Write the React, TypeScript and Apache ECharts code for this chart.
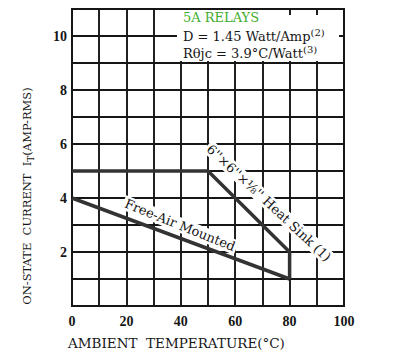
import React, { useEffect, useRef } from "react";
import * as echarts from "echarts";

const xTicks = [0, 20, 40, 60, 80, 100];
const yTicks = [2, 4, 6, 8, 10];
const heatSink: [number, number][] = [[0, 5], [50, 5], [80, 2], [80, 1]];
const freeAir: [number, number][] = [[0, 4], [80, 1]];

const SERIF = "'DejaVu Serif', 'Liberation Serif', serif";
const INK = "#161616";

export default function App() {
  const ref = useRef<HTMLDivElement>(null);
  useEffect(() => {
    if (!ref.current) return;
    const chart = echarts.init(ref.current, null, { renderer: "svg" });
    const lineStyleGrid = { color: INK, width: 1.9 };
    chart.setOption({
      animation: false,
      backgroundColor: "#fff",
      grid: { left: 72, top: 9, right: 54, bottom: 57, show: true, borderColor: INK, borderWidth: 2, backgroundColor: "transparent" },
      xAxis: {
        type: "value", min: 0, max: 100, interval: 10,
        axisLine: { show: true, lineStyle: { color: INK, width: 2 } },
        axisTick: { show: false },
        splitLine: { show: true, lineStyle: lineStyleGrid },
        axisLabel: {
          margin: 8, color: INK, fontFamily: "'Liberation Serif', serif", fontWeight: "bold", fontSize: 14,
          formatter: (v: number) => (xTicks.includes(v) ? String(v) : ""),
        },
      },
      yAxis: {
        type: "value", min: 0, max: 11, interval: 1,
        axisLine: { show: true, lineStyle: { color: INK, width: 2 } },
        axisTick: { show: false },
        splitLine: { show: true, lineStyle: lineStyleGrid },
        axisLabel: {
          margin: 5, color: INK, fontFamily: "'Liberation Serif', serif", fontWeight: "bold", fontSize: 14,
          formatter: (v: number) => (yTicks.includes(v) ? String(v) : ""),
        },
      },
      series: [
        { type: "line", data: heatSink, symbol: "none", lineStyle: { color: "#333", width: 3.5 }, z: 5 },
        { type: "line", data: freeAir, symbol: "none", lineStyle: { color: "#333", width: 3.5 }, z: 5 },
      ],
      graphic: [
        { type: "rect", z: 50, shape: { x: 177, y: 10, width: 108, height: 51 }, style: { fill: "#fff" } },
        { type: "rect", z: 50, shape: { x: 284, y: 15, width: 55, height: 46 }, style: { fill: "#fff" } },
        {
          type: "text", z: 60, x: 183, y: 17,
          style: { text: "5A RELAYS", fill: "#3fae2f", fontFamily: SERIF, fontSize: 13, verticalAlign: "middle", align: "left" },
        },
        {
          type: "text", z: 60, x: 183, y: 36,
          style: {
            text: "D = 1.45 Watt/Amp{sup|(2)}", fill: INK, fontFamily: SERIF, fontSize: 13, verticalAlign: "middle", align: "left",
            rich: { sup: { fontSize: 10, fontFamily: SERIF, fill: INK, padding: [0, 0, 8, 0] } },
          },
        },
        {
          type: "text", z: 60, x: 183, y: 53,
          style: {
            text: "R\u03B8jc = 3.9\u00B0C/Watt{sup|(3)}", fill: INK, fontFamily: SERIF, fontSize: 13, verticalAlign: "middle", align: "left",
            rich: { sup: { fontSize: 10, fontFamily: SERIF, fill: INK, padding: [0, 0, 8, 0] } },
          },
        },
        {
          type: "text", z: 60, x: 180, y: 225, rotation: (-22 * Math.PI) / 180,
          style: {
            text: "Free-Air Mounted", fill: INK, fontFamily: SERIF, fontSize: 13, align: "center", verticalAlign: "middle",
            backgroundColor: "#fff", padding: [1, 2, 1, 2],
          },
        },
        {
          type: "text", z: 60, x: 269, y: 203, rotation: (-43 * Math.PI) / 180,
          style: {
            text: "6''\u00D76''\u00D7\u215B'' Heat Sink (1)", fill: INK, fontFamily: SERIF, fontSize: 13, align: "center", verticalAlign: "middle",
            backgroundColor: "#fff", padding: [1, 2, 1, 2],
          },
        },
        {
          type: "text", z: 60, x: 27, y: 196, rotation: Math.PI / 2,
          style: {
            text: "ON-STATE  CURRENT  I{sub|T}(AMP-RMS)", fill: INK, fontFamily: SERIF, fontSize: 11.5, align: "center", verticalAlign: "middle",
            rich: { sub: { fontSize: 9, fontFamily: SERIF, fill: INK, padding: [8, 0, 0, 0] } },
          },
        },
        {
          type: "text", z: 60, x: 68, y: 343,
          style: { text: "AMBIENT  TEMPERATURE(\u00B0C)", fill: INK, fontFamily: SERIF, fontSize: 13.5, align: "left", verticalAlign: "middle" },
        },
      ],
    });
    return () => chart.dispose();
  }, []);
  return <div ref={ref} style={{ width: 398, height: 363, position: "absolute", left: 0, top: 0 }} />;
}
